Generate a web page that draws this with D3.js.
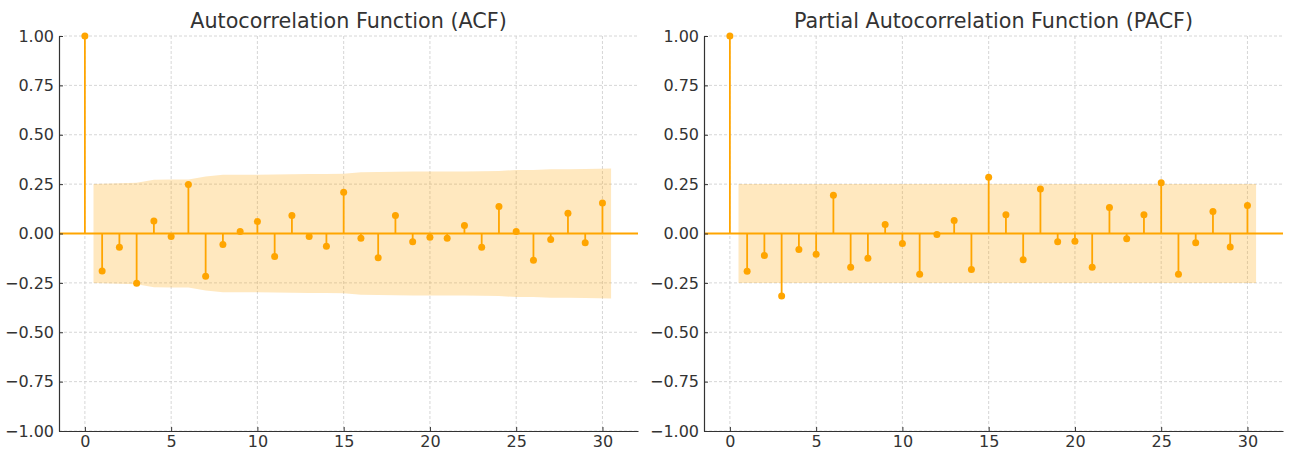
<!DOCTYPE html>
<html>
<head>
<meta charset="utf-8">
<script src="https://cdn.jsdelivr.net/npm/d3@7"></script>
<style>
  html, body { margin: 0; padding: 0; background: #fff; }
  svg { display: block; }
</style>
</head>
<body>
<svg id="chart" width="1290" height="450"></svg>
<script>
// ---- data ----
const lags = d3.range(0, 31);
const acfValues = [1.0, -0.19, -0.069, -0.252, 0.063, -0.015, 0.248, -0.216, -0.056, 0.010,
  0.061, -0.117, 0.091, -0.015, -0.064, 0.209, -0.024, -0.123, 0.091, -0.042,
  -0.019, -0.024, 0.041, -0.069, 0.137, 0.010, -0.135, -0.030, 0.103, -0.047, 0.155];
const pacfValues = [1.0, -0.191, -0.111, -0.316, -0.081, -0.105, 0.194, -0.171, -0.125, 0.046,
  -0.051, -0.206, -0.005, 0.066, -0.182, 0.285, 0.095, -0.133, 0.225, -0.042,
  -0.039, -0.171, 0.132, -0.027, 0.095, 0.257, -0.206, -0.047, 0.111, -0.068, 0.142];
// confidence band half-widths for lags 1..30
const acfBand = [0.251, 0.255, 0.257, 0.272, 0.273, 0.274, 0.289, 0.297, 0.298, 0.298,
  0.299, 0.300, 0.301, 0.301, 0.302, 0.310, 0.311, 0.313, 0.314, 0.314,
  0.314, 0.314, 0.315, 0.316, 0.322, 0.322, 0.325, 0.325, 0.327, 0.329];
const pacfBand = [0.251, 0.251, 0.251, 0.251, 0.251, 0.251, 0.251, 0.251, 0.251, 0.251,
  0.251, 0.251, 0.251, 0.251, 0.251, 0.251, 0.251, 0.251, 0.251, 0.251,
  0.251, 0.251, 0.251, 0.251, 0.251, 0.251, 0.251, 0.251, 0.251, 0.251];
const yTicks = [-1.0, -0.75, -0.5, -0.25, 0, 0.25, 0.5, 0.75, 1.0];
const xTicks = [0, 5, 10, 15, 20, 25, 30];
const titles = ["Autocorrelation Function (ACF)", "Partial Autocorrelation Function (PACF)"];

// ---- drawing ----
const svg = d3.select("#chart");
const FONT = "'DejaVu Sans', sans-serif";
const ORANGE = "#FFA500";
const TEXT = "#333333";

const panels = [
  {left: 59, right: 638, values: acfValues, band: acfBand, title: titles[0]},
  {left: 704, right: 1283, values: pacfValues, band: pacfBand, title: titles[1]}
];
const plotTop = 36, plotBottom = 431;

panels.forEach(p => {
  const g = svg.append("g");
  const x = d3.scaleLinear().domain([-1.5, 32.06]).range([p.left, p.right]);
  const y = d3.scaleLinear().domain([-1, 1]).range([plotBottom, plotTop]);

  // grid
  g.append("g").selectAll("line").data(yTicks).join("line")
    .attr("x1", p.left).attr("x2", p.right)
    .attr("y1", d => y(d)).attr("y2", d => y(d))
    .attr("stroke", "#cccccc").attr("stroke-width", 0.8).attr("stroke-dasharray", "3,2");
  g.append("g").selectAll("line").data(xTicks).join("line")
    .attr("x1", d => x(d)).attr("x2", d => x(d))
    .attr("y1", plotTop).attr("y2", plotBottom)
    .attr("stroke", "#cccccc").attr("stroke-width", 0.8).attr("stroke-dasharray", "3,2");

  // confidence band
  const bandLags = lags.slice(1);
  const bandData = bandLags.map((l, i) => ({
    lag: i === 0 ? l - 0.5 : (i === bandLags.length - 1 ? l + 0.5 : l),
    v: p.band[i]
  }));
  const area = d3.area().x(d => x(d.lag)).y0(d => y(-d.v)).y1(d => y(d.v));
  g.append("path").datum(bandData).attr("d", area)
    .attr("fill", ORANGE).attr("fill-opacity", 0.25);

  // zero line
  g.append("line").attr("x1", p.left).attr("x2", p.right)
    .attr("y1", y(0)).attr("y2", y(0))
    .attr("stroke", ORANGE).attr("stroke-width", 1.8);

  // stems
  g.append("g").selectAll("line").data(lags).join("line")
    .attr("x1", d => x(d)).attr("x2", d => x(d))
    .attr("y1", y(0)).attr("y2", d => y(p.values[d]))
    .attr("stroke", ORANGE).attr("stroke-width", 1.8);
  g.append("g").selectAll("circle").data(lags).join("circle")
    .attr("cx", d => x(d)).attr("cy", d => y(p.values[d]))
    .attr("r", 3.5).attr("fill", ORANGE);

  // axes
  const yAxis = d3.axisLeft(y).tickValues(yTicks)
    .tickFormat(d => d3.format(".2f")(d).replace("-", "\u2212"))
    .tickSizeInner(-4).tickSizeOuter(0).tickPadding(5);
  const ya = g.append("g").attr("transform", `translate(${p.left},0)`).call(yAxis);
  const xAxis = d3.axisBottom(x).tickValues(xTicks).tickFormat(d3.format("d"))
    .tickSizeInner(-4).tickSizeOuter(0).tickPadding(5);
  const xa = g.append("g").attr("transform", `translate(0,${plotBottom})`).call(xAxis);
  [ya, xa].forEach(a => {
    a.select(".domain").attr("stroke", TEXT).attr("stroke-width", 1.2);
    a.selectAll(".tick line").attr("stroke", TEXT).attr("stroke-width", 1);
    a.selectAll(".tick text").attr("fill", TEXT)
      .style("font-family", FONT).style("font-size", "16px");
  });

  // title
  g.append("text").attr("x", (p.left + p.right) / 2).attr("y", 28)
    .attr("text-anchor", "middle").attr("fill", TEXT)
    .style("font-family", FONT).style("font-size", "20.7px")
    .text(p.title);
});
</script>
</body>
</html>
